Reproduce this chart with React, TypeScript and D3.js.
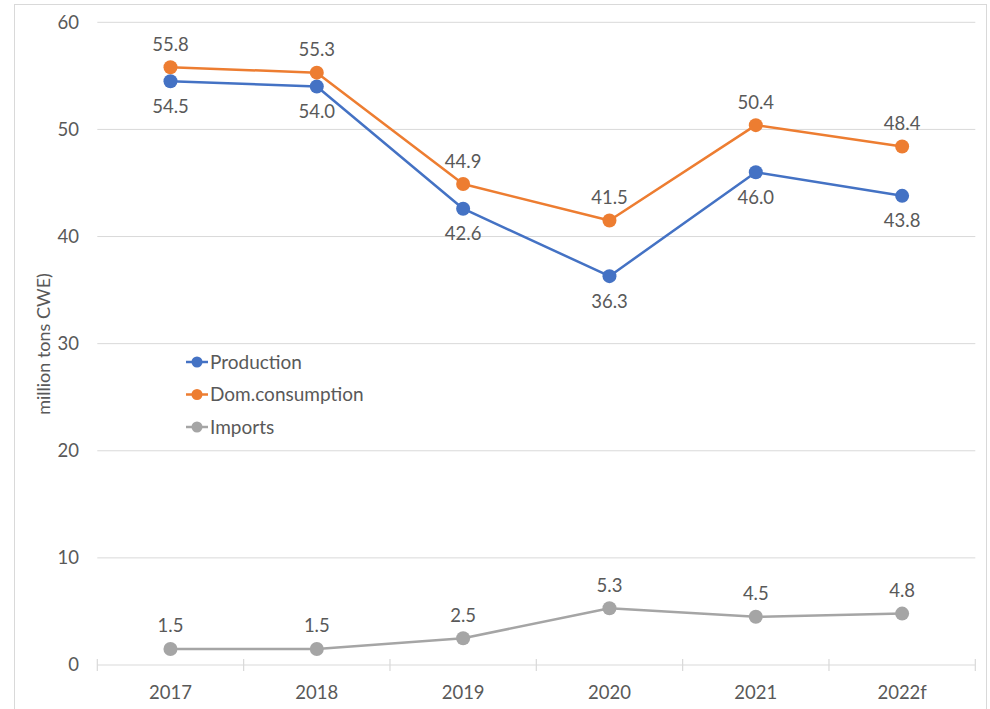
import React from "react";
import * as d3 from "d3";

const categories = ["2017", "2018", "2019", "2020", "2021", "2022f"];
const production = [54.5, 54.0, 42.6, 36.3, 46.0, 43.8];
const consumption = [55.8, 55.3, 44.9, 41.5, 50.4, 48.4];
const imports = [1.5, 1.5, 2.5, 5.3, 4.5, 4.8];
const yTicks = [0, 10, 20, 30, 40, 50, 60];

const series = [
  { name: "Production", values: production, color: "#4472C4", labelPos: "below" },
  { name: "Dom.consumption", values: consumption, color: "#ED7D31", labelPos: "above" },
  { name: "Imports", values: imports, color: "#A5A5A5", labelPos: "above" },
];

const W = 990;
const H = 709;
const left = 97.3;
const right = 975.3;
const top = 22.3;
const bottom = 665;
const FONT = "Lato, 'Open Sans', sans-serif";
const TEXT = "#595959";
const FS = 18.5;

export default function App() {
  const x = d3.scaleBand<string>().domain(categories).range([left, right]).padding(0);
  const y = d3.scaleLinear().domain([0, 60]).range([bottom, top]);
  const cx = (c: string) => (x(c) as number) + x.bandwidth() / 2;
  const line = d3
    .line<number>()
    .x((_, i) => cx(categories[i]))
    .y((v) => y(v));

  const ticksX = [...categories.map((c) => x(c) as number), right];

  return (
    <svg width={W} height={H} style={{ position: "absolute", left: 0, top: 0 }}>
      <rect x={0} y={0} width={W} height={H} fill="#fff" />
      <rect x={14.5} y={4.5} width={972} height={H + 10} fill="none" stroke="#D9D9D9" strokeWidth={1} />
      {yTicks.map((t) => (
        <g key={t}>
          {t > 0 && (
            <line x1={left} x2={right} y1={y(t)} y2={y(t)} stroke="#D9D9D9" strokeWidth={1} />
          )}
          <text
            x={79}
            y={y(t)}
            dy="0.35em"
            textAnchor="end"
            fontFamily={FONT}
            fontSize={FS}
            fill={TEXT}
          >
            {t}
          </text>
        </g>
      ))}
      <line x1={left} x2={right} y1={bottom} y2={bottom} stroke="#D9D9D9" strokeWidth={1.2} />
      {ticksX.map((tx, i) => (
        <line key={i} x1={tx} x2={tx} y1={bottom - 6} y2={bottom + 6} stroke="#D9D9D9" strokeWidth={1.2} />
      ))}
      {categories.map((c) => (
        <text
          key={c}
          x={cx(c)}
          y={bottom + 28}
          dy="0.35em"
          textAnchor="middle"
          fontFamily={FONT}
          fontSize={FS}
          fill={TEXT}
        >
          {c}
        </text>
      ))}
      <text
        transform={`translate(44, 344) rotate(-90)`}
        textAnchor="middle"
        dy="0.35em"
        fontFamily={FONT}
        fontSize={18}
        fill={TEXT}
      >
        million tons CWE)
      </text>
      {series.map((s) => (
        <g key={s.name}>
          <path d={line(s.values) || ""} fill="none" stroke={s.color} strokeWidth={2.5} strokeLinejoin="round" />
          {s.values.map((v, i) => (
            <circle key={i} cx={cx(categories[i])} cy={y(v)} r={7} fill={s.color} />
          ))}
          {s.values.map((v, i) => (
            <text
              key={"l" + i}
              x={cx(categories[i])}
              y={y(v) + (s.labelPos === "above" ? -23 : 25)}
              dy="0.35em"
              textAnchor="middle"
              fontFamily={FONT}
              fontSize={FS}
              fill={TEXT}
            >
              {v.toFixed(1)}
            </text>
          ))}
        </g>
      ))}
      {series.map((s, i) => {
        const ly = 362 + i * 32.5;
        return (
          <g key={"lg" + s.name}>
            <line x1={186} x2={208} y1={ly} y2={ly} stroke={s.color} strokeWidth={2.5} />
            <circle cx={197} cy={ly} r={5.5} fill={s.color} />
            <text x={210} y={ly} dy="0.35em" fontFamily={FONT} fontSize={19} fill={TEXT}>
              {s.name}
            </text>
          </g>
        );
      })}
    </svg>
  );
}
